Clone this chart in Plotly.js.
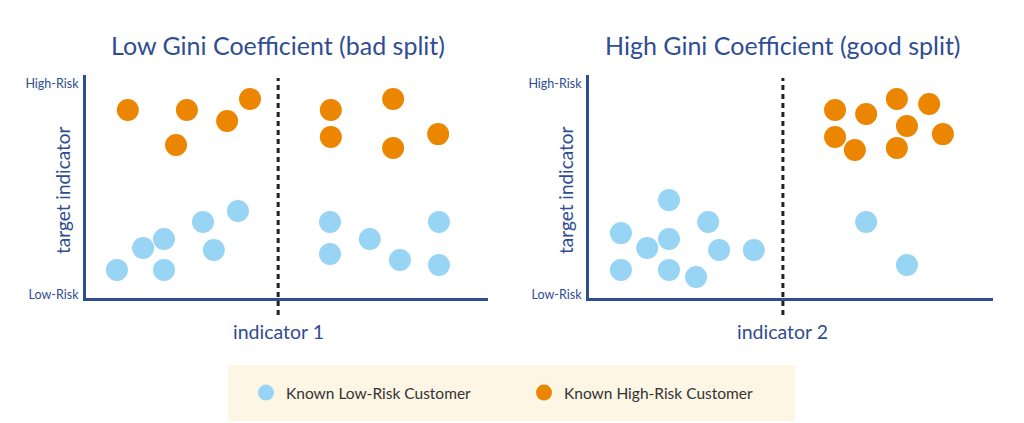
<!DOCTYPE html>
<html>
<head>
<meta charset="utf-8">
<script src="https://cdn.plot.ly/plotly-3.0.1.min.js"></script>
<style>html,body{margin:0;padding:0;background:#fff;}#chart{width:1024px;height:423px;}</style>
</head>
<body>
<div id="chart"></div>
<script>
// ---- data ----
const panelTitles = ["Low Gini Coefficient (bad split)", "High Gini Coefficient (good split)"];
const xTitles = ["indicator 1", "indicator 2"];
const yTitle = "target indicator";
const yTickVals = [0.13, 9.6];
const yTickText = ["Low-Risk", "High-Risk"];
const splits = [4.78, 4.80];
const seriesNames = ["Known Low-Risk Customer", "Known High-Risk Customer"];

// panel 1 (bad split)
const lowRisk1X = [0.77, 1.42, 1.94, 1.94, 2.91, 3.18, 3.78, 6.07, 6.07, 7.06, 7.81, 8.78, 8.78];
const lowRisk1Y = [1.26, 2.24, 2.65, 1.26, 3.41, 2.15, 3.90, 3.41, 1.97, 2.65, 1.70, 3.41, 1.48];
const highRisk1X = [1.04, 2.51, 2.24, 3.51, 4.08, 6.09, 6.09, 7.64, 7.64, 8.76];
const highRisk1Y = [8.43, 8.43, 6.86, 7.94, 8.92, 8.43, 7.22, 8.92, 6.73, 7.35];

// panel 2 (good split)
const lowRisk2X = [0.79, 0.79, 1.44, 1.98, 1.98, 1.98, 2.65, 2.95, 3.22, 4.08, 6.86, 7.87];
const lowRisk2Y = [2.91, 1.26, 2.24, 4.39, 2.65, 1.26, 0.94, 3.41, 2.15, 2.15, 3.41, 1.48];
const highRisk2X = [6.09, 6.86, 7.62, 8.42, 7.87, 6.09, 6.58, 7.62, 8.76];
const highRisk2Y = [8.43, 8.25, 8.92, 8.70, 7.71, 7.22, 6.64, 6.73, 7.35];

// ---- styles ----
const BLUE = "#98d5f4";
const ORANGE = "#ec8500";
const NAVY = "#2f4d92";
const FONT = "Lato, 'Open Sans', sans-serif";
const MS = 22;

function pts(x, y, xa, ya, name, color, show) {
  return {
    type: "scatter", mode: "markers", x: x, y: y, xaxis: xa, yaxis: ya,
    name: name, showlegend: show, legendgroup: name,
    marker: {color: color, size: MS, line: {width: 0}},
    hoverinfo: "skip"
  };
}

const data = [
  pts(lowRisk1X, lowRisk1Y, "x", "y", seriesNames[0], BLUE, true),
  pts(highRisk1X, highRisk1Y, "x", "y", seriesNames[1], ORANGE, true),
  pts(lowRisk2X, lowRisk2Y, "x2", "y2", seriesNames[0], BLUE, false),
  pts(highRisk2X, highRisk2Y, "x2", "y2", seriesNames[1], ORANGE, false)
];

function xAxis(domain, anchor) {
  return {domain: domain, anchor: anchor, range: [0, 10], showgrid: false, zeroline: false,
    showticklabels: false, ticks: "", showline: true, linecolor: NAVY, linewidth: 3, fixedrange: true};
}
function yAxis(domain, anchor) {
  return {domain: domain, anchor: anchor, range: [0, 10], showgrid: false, zeroline: false,
    tickvals: yTickVals, ticktext: yTickText, ticks: "", ticklabelstandoff: 2,
    tickfont: {family: FONT, size: 12.5, color: NAVY},
    showline: true, linecolor: NAVY, linewidth: 3, fixedrange: true};
}

const yDom = [(423 - 298) / 423, (423 - 75) / 423];

const shapes = [
  {type: "rect", xref: "paper", yref: "paper", x0: 228/1024, x1: 795/1024, y0: 2/423, y1: 58/423,
   fillcolor: "#fdf6e5", line: {width: 0}, layer: "below"}
];
["x", "x2"].forEach((xr, i) => {
  shapes.push({type: "line", xref: xr, yref: "paper", x0: splits[i], x1: splits[i],
    y0: (423 - 315) / 423, y1: (423 - 78) / 423,
    line: {color: "#222222", width: 3, dash: "5px,4px"}});
});

const annotations = [];
["x", "x2"].forEach((xr, i) => {
  annotations.push({xref: xr, yref: "paper", x: splits[i], y: (423 - 45) / 423, text: panelTitles[i],
    showarrow: false, xanchor: "center", yanchor: "middle", font: {family: FONT, size: 25, color: NAVY}});
  annotations.push({xref: xr, yref: "paper", x: splits[i], y: (423 - 331) / 423, text: xTitles[i],
    showarrow: false, xanchor: "center", yanchor: "middle", font: {family: FONT, size: 19.5, color: NAVY}});
});
[62, 565].forEach(px => {
  annotations.push({xref: "paper", yref: "paper", x: px / 1024, y: (423 - 190) / 423, text: yTitle,
    textangle: -90, showarrow: false, xanchor: "center", yanchor: "middle",
    font: {family: FONT, size: 19, color: NAVY}});
});

const layout = {
  width: 1024, height: 423,
  margin: {l: 0, r: 0, t: 0, b: 0},
  paper_bgcolor: "#ffffff", plot_bgcolor: "rgba(0,0,0,0)",
  font: {family: FONT, color: NAVY},
  xaxis: xAxis([86/1024, 488/1024], "y"),
  yaxis: yAxis(yDom, "x"),
  xaxis2: xAxis([589/1024, 993/1024], "y2"),
  yaxis2: yAxis(yDom, "x2"),
  showlegend: true,
  legend: {orientation: "h", x: 246/1024, xanchor: "left", y: (423 - 393) / 423, yanchor: "middle",
    bgcolor: "rgba(0,0,0,0)", borderwidth: 0, entrywidth: 233, entrywidthmode: "pixels",
    font: {family: FONT, size: 15.5, color: "#333333"}},
  shapes: shapes,
  annotations: annotations,
  hovermode: false
};

Plotly.newPlot("chart", data, layout, {displayModeBar: false, staticPlot: true});
</script>
</body>
</html>
